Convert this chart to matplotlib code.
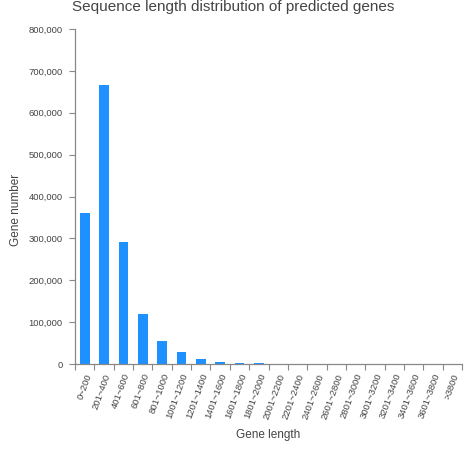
import matplotlib
matplotlib.use("Agg")
import matplotlib.pyplot as plt
from matplotlib.ticker import FuncFormatter, FixedLocator
import numpy as np

categories = ["0~200", "201~400", "401~600", "601~800", "801~1000", "1001~1200",
              "1201~1400", "1401~1600", "1601~1800", "1801~2000", "2001~2200",
              "2201~2400", "2401~2600", "2601~2800", "2801~3000", "3001~3200",
              "3201~3400", "3401~3600", "3601~3800", ">3800"]
gene_counts = [360000, 667000, 291000, 119000, 54000, 27700, 12600, 5500, 3000, 1500,
               900, 500, 300, 200, 150, 100, 70, 50, 40, 60]
y_ticks = [0, 100000, 200000, 300000, 400000, 500000, 600000, 700000, 800000]

plt.rcParams['font.family'] = ['Liberation Sans', 'DejaVu Sans']

fig = plt.figure(figsize=(4.77, 4.51), dpi=100)
ax = fig.add_axes([75/477, 1-364/451, (462-75)/477, (364-29)/451])

x = np.arange(len(categories))
ax.bar(x, gene_counts, width=0.5, color='#1E90FF', zorder=2)

ax.set_xlim(-0.5, len(categories) - 0.5)
ax.set_ylim(0, 800000)
ax.set_yticks(y_ticks)
ax.yaxis.set_major_formatter(FuncFormatter(lambda v, p: f"{int(v):,}"))

ax.set_xticks(x)
ax.set_xticklabels(categories, rotation=70, ha='right', va='top', rotation_mode='anchor')
ax.xaxis.set_minor_locator(FixedLocator(np.arange(-0.5, len(categories), 1.0)))
ax.tick_params(axis='x', which='major', length=0, pad=6, labelsize=6.8, labelcolor='#444444')
ax.tick_params(axis='x', which='minor', length=4, color='#888888', width=0.8)
ax.tick_params(axis='y', length=4, color='#888888', width=0.8, labelsize=6.8,
               labelcolor='#444444', pad=5)

for s in ['top', 'right']:
    ax.spines[s].set_visible(False)
for s in ['left', 'bottom']:
    ax.spines[s].set_color('#888888')
    ax.spines[s].set_linewidth(0.9)

fig.text(268/477, 1-435/451, "Gene length", ha='center', va='center', fontsize=8.5, color='#444444')
fig.text(16/477, 1-210/451, "Gene number", ha='center', va='center', fontsize=8.5,
         color='#444444', rotation=90)
fig.text(233/477, 1-7/451, "Sequence length distribution of predicted genes",
         ha='center', va='center', fontsize=11, color='#444444')

fig.savefig("out.png", dpi=100, facecolor='white')
